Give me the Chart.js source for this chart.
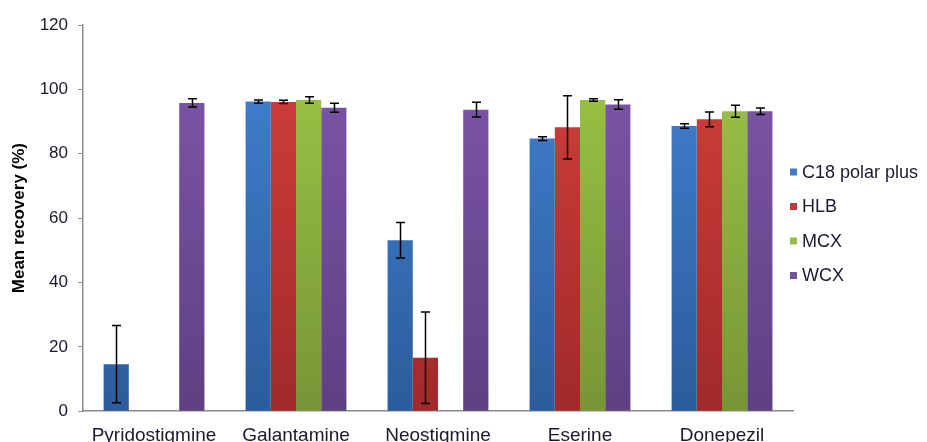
<!DOCTYPE html>
<html>
<head>
<meta charset="utf-8">
<script src="https://cdn.jsdelivr.net/npm/chart.js@4"></script>
<style>
  html, body { margin: 0; padding: 0; background: #fff; overflow: hidden; }
  canvas { display: block; }
</style>
</head>
<body>
<canvas id="chart" width="927" height="460"></canvas>
<script>
// Compounds on the x axis
const categories = ['Pyridostigmine', 'Galantamine', 'Neostigmine', 'Eserine', 'Donepezil'];

// Mean recovery (%) per SPE sorbent; null = not recovered / not shown
const c18Values = [14.6, 96.2, 53.1, 84.7, 88.6];
const hlbValues = [null, 96.1, 16.6, 88.2, 90.7];
const mcxValues = [null, 96.7, null, 96.7, 93.2];
const wcxValues = [95.8, 94.3, 93.7, 95.3, 93.2];

// Standard deviations (error bars)
const c18Err = [12.0, 0.5, 5.5, 0.6, 0.7];
const hlbErr = [null, 0.5, 14.2, 9.8, 2.3];
const mcxErr = [null, 1.0, null, 0.4, 1.9];
const wcxErr = [1.3, 1.4, 2.3, 1.5, 1.0];

const yTicks = [0, 20, 40, 60, 80, 100, 120];

const seriesNames = ['C18 polar plus', 'HLB', 'MCX', 'WCX'];

const palette = [
  { top: 'rgb(66,131,212)', bottom: 'rgb(44,92,156)', swatch: '#3f7cc8' },
  { top: 'rgb(214,64,60)', bottom: 'rgb(160,42,42)', swatch: '#c0393a' },
  { top: 'rgb(160,200,72)', bottom: 'rgb(118,150,54)', swatch: '#93bb45' },
  { top: 'rgb(128,88,172)', bottom: 'rgb(94,64,130)', swatch: '#7350a0' }
];

const FONT = '"Liberation Sans", Arial, sans-serif';

function gradientFor(i) {
  return function (ctx) {
    const chart = ctx.chart;
    const area = chart.chartArea;
    if (!area) return palette[i].swatch;
    const g = chart.ctx.createLinearGradient(0, area.top, 0, area.bottom);
    g.addColorStop(0, palette[i].top);
    g.addColorStop(1, palette[i].bottom);
    return g;
  };
}

const valueSets = [c18Values, hlbValues, mcxValues, wcxValues];
const errSets = [c18Err, hlbErr, mcxErr, wcxErr];

const datasets = seriesNames.map((name, i) => ({
  label: name,
  data: valueSets[i],
  errors: errSets[i],
  backgroundColor: gradientFor(i),
  borderWidth: 0,
  barPercentage: 1.0,
  categoryPercentage: 0.71
}));

// Draws black error bars with caps from each dataset's "errors" array
const errorBarPlugin = {
  id: 'errorBars',
  afterDatasetsDraw(chart) {
    const ctx = chart.ctx;
    const y = chart.scales.y;
    ctx.save();
    ctx.strokeStyle = '#000';
    ctx.lineWidth = 1.5;
    chart.data.datasets.forEach((ds, di) => {
      const meta = chart.getDatasetMeta(di);
      meta.data.forEach((bar, idx) => {
        const v = ds.data[idx];
        const e = ds.errors[idx];
        if (v == null || e == null) return;
        const x = Math.round(bar.x) + 0.5;
        const yTop = y.getPixelForValue(v + e);
        const yBot = y.getPixelForValue(v - e);
        const cap = 4.5;
        ctx.beginPath();
        ctx.moveTo(x, yTop); ctx.lineTo(x, yBot);
        ctx.moveTo(x - cap, yTop); ctx.lineTo(x + cap, yTop);
        ctx.moveTo(x - cap, yBot); ctx.lineTo(x + cap, yBot);
        ctx.stroke();
      });
    });
    ctx.restore();
  }
};

// Legend on the right: small square swatch followed by the series name
const sideLegendPlugin = {
  id: 'sideLegend',
  afterDraw(chart) {
    const ctx = chart.ctx;
    const area = chart.chartArea;
    ctx.save();
    ctx.font = '18px ' + FONT;
    ctx.textBaseline = 'middle';
    ctx.textAlign = 'left';
    const x0 = area.right - 3;
    const y0 = 172;
    const step = 34.5;
    chart.data.datasets.forEach((ds, i) => {
      const cy = y0 + i * step;
      ctx.fillStyle = palette[i].swatch;
      ctx.fillRect(x0, cy - 3.5, 7, 7);
      ctx.fillStyle = '#1a1a2e';
      ctx.fillText(ds.label, x0 + 12, cy + 1);
    });
    ctx.restore();
  }
};

new Chart(document.getElementById('chart'), {
  type: 'bar',
  data: { labels: categories, datasets },
  plugins: [errorBarPlugin, sideLegendPlugin],
  options: {
    responsive: false,
    animation: false,
    layout: { padding: { top: 25, right: 134, bottom: 0, left: 0 } },
    plugins: {
      legend: { display: false },
      tooltip: { enabled: false }
    },
    scales: {
      x: {
        grid: { display: false, drawTicks: false },
        border: { display: true, color: '#8c8c8c', width: 1.5 },
        ticks: {
          color: '#1a1a2e',
          font: { family: FONT, size: 19 },
          padding: 13,
          maxRotation: 0,
          autoSkip: false
        }
      },
      y: {
        min: 0,
        max: 120,
        afterBuildTicks(scale) {
          scale.ticks = yTicks.map(v => ({ value: v }));
        },
        afterFit(scale) { scale.width = 83; },
        grid: { drawOnChartArea: false, drawTicks: true, tickLength: 5, color: '#8c8c8c' },
        border: { display: true, color: '#8c8c8c', width: 1.5 },
        ticks: {
          color: '#1a1a2e',
          font: { family: FONT, size: 17 },
          padding: 10
        },
        title: {
          display: true,
          text: 'Mean recovery (%)',
          color: '#000',
          font: { family: FONT, size: 17, weight: 'bold' },
          padding: { top: 9, bottom: 0 }
        }
      }
    }
  }
});
</script>
</body>
</html>
